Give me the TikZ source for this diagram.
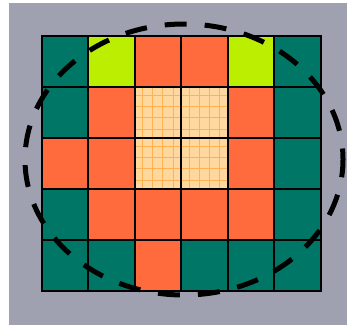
\documentclass[tikz,border=0pt]{standalone}
\usepackage{xcolor}
\usepackage{tikz}
\usetikzlibrary{calc,shapes.geometric}

\definecolor{tealc}{RGB}{0,119,102}
\definecolor{orangec}{RGB}{255,107,61}
\definecolor{limec}{RGB}{187,238,0}
\definecolor{peachc}{RGB}{255,216,160}
\definecolor{peachline}{RGB}{255,178,80}
\definecolor{bgc}{RGB}{160,161,176}

\begin{document}
\begin{tikzpicture}[
  x=1pt,y=-1pt,
  cell/.style={minimum width=46.5pt,minimum height=51pt,inner sep=0pt,outer sep=0pt,anchor=north west},
  edge/.style={draw=black,line width=2pt},
  paleline/.style={draw=peachline,line width=0.8pt},
  zone/.style={draw=black,line width=5pt,dash pattern=on 22pt off 18pt,dash phase=11pt},
]
\useasboundingbox (0,0) rectangle (347,325);
\fill[bgc] (9,3) rectangle (347,325);
\foreach \row [count=\r] in {{tealc,limec,orangec,orangec,limec,tealc},{tealc,orangec,peachc,peachc,orangec,tealc},{orangec,orangec,peachc,peachc,orangec,tealc},{tealc,orangec,orangec,orangec,orangec,tealc},{tealc,tealc,orangec,tealc,tealc,tealc}}
  \foreach \kind [count=\c] in \row
    \node[cell,fill=\kind] (c-\r-\c) at ({41.5+46.5*(\c-1)},{35.7+51*(\r-1)}) {};
\foreach \n in {c-2-3,c-2-4,c-3-3,c-3-4}
  \foreach \f in {0.17,0.39,0.61,0.83} {
    \draw[paleline] ($(\n.north west)!\f!(\n.north east)$) -- ($(\n.south west)!\f!(\n.south east)$);
    \draw[paleline] ($(\n.north west)!\f!(\n.south west)$) -- ($(\n.north east)!\f!(\n.south east)$);
  }
\foreach \r in {1,...,5}
  \foreach \c in {1,...,6}
    \draw[edge] (c-\r-\c.north west) rectangle (c-\r-\c.south east);
\node[ellipse,minimum width=318pt,minimum height=271pt,inner sep=0pt,zone] (ring) at (184,159.5) {};
\end{tikzpicture}
\end{document}
